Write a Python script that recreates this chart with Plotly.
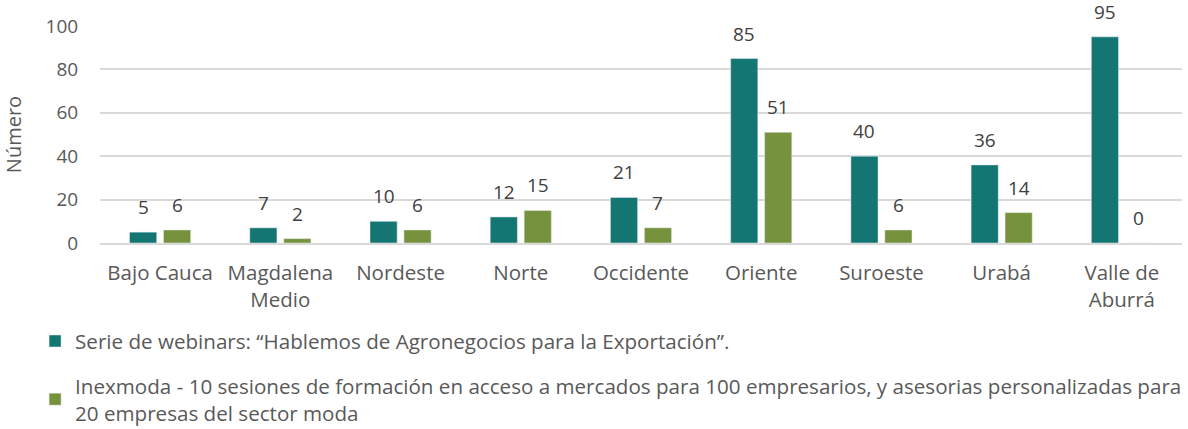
import plotly.graph_objects as go

categories = ["Bajo Cauca", "Magdalena<br>Medio", "Nordeste", "Norte", "Occidente",
              "Oriente", "Suroeste", "Urabá", "Valle de<br>Aburrá"]
webinars = [5, 7, 10, 12, 21, 85, 40, 36, 95]
inexmoda = [6, 2, 6, 15, 7, 51, 6, 14, 0]
name_webinars = "Serie de webinars: “Hablemos de Agronegocios para la Exportación”."
name_inexmoda = ("Inexmoda - 10 sesiones de formación en acceso a mercados para 100 empresarios, "
                 "y asesorias personalizadas para<br>20 empresas del sector moda")
y_ticks = [0, 20, 40, 60, 80, 100]

TEAL = "#147673"
GREEN = "#76923C"
FONT = "Open Sans, Lato, sans-serif"
BARGAP = 0.435
GROUPGAP = 0.2

fig = go.Figure()
fig.add_trace(go.Bar(x=list(range(len(categories))), y=webinars, name=name_webinars,
                     marker_color=TEAL, legendgroup="a"))
fig.add_trace(go.Bar(x=list(range(len(categories))), y=inexmoda, name=name_inexmoda,
                     marker_color=GREEN, legendgroup="b"))

off = (1 - BARGAP) / 4
for series, sign in ((webinars, -1), (inexmoda, 1)):
    for i, v in enumerate(series):
        fig.add_annotation(x=i + sign * off, y=v, text=str(v), showarrow=False,
                           yanchor="bottom", yshift=10,
                           font=dict(family=FONT, size=19, color="#404040"))

fig.update_layout(
    width=1188, height=429,
    margin=dict(l=100, r=6, t=26, b=186, autoexpand=False),
    paper_bgcolor="white", plot_bgcolor="white",
    barmode="group", bargap=BARGAP, bargroupgap=GROUPGAP,
    font=dict(family=FONT, size=18, color="#595959"),
    showlegend=True,
    legend=dict(orientation="v", x=-0.060, xanchor="left", y=-0.36, yanchor="top",
                font=dict(family=FONT, size=20.6, color="#595959"),
                tracegroupgap=15, itemwidth=30, traceorder="grouped",
                bgcolor="rgba(0,0,0,0)"),
)
fig.update_xaxes(tickmode="array", tickvals=list(range(len(categories))), ticktext=categories,
                 range=[-0.5, len(categories) - 0.5],
                 showline=True, linecolor="#D9D9D9", linewidth=1.5,
                 ticks="outside", ticklen=11, tickcolor="rgba(0,0,0,0)",
                 tickfont=dict(family=FONT, size=20.5, color="#595959"))
fig.update_yaxes(range=[0, 100], tickvals=y_ticks, showgrid=True, gridcolor="#D9D9D9",
                 gridwidth=1.5, zeroline=False,
                 ticks="outside", ticklen=17, tickcolor="rgba(0,0,0,0)",
                 tickfont=dict(family=FONT, size=19, color="#595959"),
                 title=dict(text="Número", standoff=20,
                            font=dict(family=FONT, size=20, color="#595959")))

fig.write_html("out.html", config={"displayModeBar": False},
               post_script="document.body.style.margin='0';")
